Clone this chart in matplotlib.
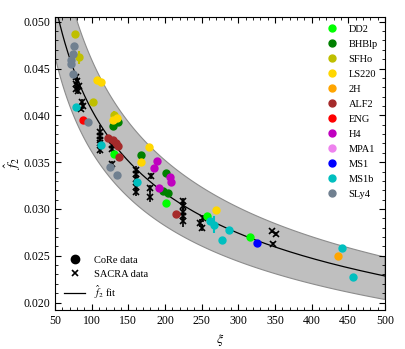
import matplotlib
matplotlib.use('Agg')
import matplotlib.pyplot as plt
from matplotlib.lines import Line2D
from matplotlib.ticker import MultipleLocator
import numpy as np

plt.rcParams['font.family'] = 'Liberation Serif'
plt.rcParams['mathtext.fontset'] = 'stix'

eos_names = ['DD2', 'BHBlp', 'SFHo', 'LS220', '2H', 'ALF2', 'ENG', 'H4', 'MPA1', 'MS1', 'MS1b', 'SLy4']
eos_colors = ['lime', 'green', '#bfbf00', 'gold', 'orange', 'brown', 'red', '#c000c0',
              'violet', 'blue', '#00bfbf', 'slategray']

# CoRe data points (one entry per simulation)
core_eos = ['SFHo', 'SFHo', 'SFHo', 'SFHo',
            'SLy4', 'SLy4', 'SLy4', 'SLy4', 'SLy4', 'SLy4', 'SLy4', 'SLy4',
            'LS220', 'LS220', 'LS220', 'LS220', 'LS220', 'LS220', 'LS220',
            'MS1b', 'MS1b', 'MS1b', 'MS1b', 'MS1b', 'MS1b', 'MS1b', 'MS1b', 'MS1b',
            'ENG',
            'BHBlp', 'BHBlp', 'BHBlp', 'BHBlp', 'BHBlp', 'BHBlp',
            'ALF2', 'ALF2', 'ALF2', 'ALF2', 'ALF2', 'ALF2',
            'DD2', 'DD2', 'DD2', 'DD2',
            'H4', 'H4', 'H4', 'H4', 'H4',
            'MS1', '2H']
core_xi = [77.3, 82.7, 101.4, 130.9,
           75.5, 74.1, 72.3, 71.8, 74.1, 94.5, 125.0, 135.0,
           106.9, 112.3, 129.5, 134.0, 178.5, 167.8, 269.5,
           78.6, 112.7, 161.4, 261.4, 266.9, 278.3, 287.7, 441.0, 456.8,
           88.6,
           129.5, 136.3, 167.0, 201.0, 197.7, 204.5,
           122.7, 129.5, 136.3, 133.0, 137.7, 215.0,
           130.9, 201.0, 257.0, 315.9,
           188.7, 185.4, 206.8, 208.2, 192.3,
           325.9, 436.4]
core_f2 = [0.0487, 0.0462, 0.0414, 0.0400,
           0.0474, 0.0466, 0.0459, 0.0455, 0.0444, 0.0393, 0.0345, 0.0336,
           0.0438, 0.0436, 0.0395, 0.0397, 0.0366, 0.0350, 0.0299,
           0.0409, 0.0368, 0.0329, 0.0287, 0.0283, 0.0267, 0.0277, 0.0258, 0.0227,
           0.0395,
           0.0389, 0.0393, 0.0358, 0.0338, 0.0319, 0.0317,
           0.0376, 0.0374, 0.0367, 0.0370, 0.0355, 0.0295,
           0.0359, 0.0306, 0.0292, 0.0270,
           0.0351, 0.0344, 0.0334, 0.0329, 0.0322,
           0.0264, 0.0250]
core_err = [0.0, 0.0007, 0.0, 0.0005,
            0.0, 0.0, 0.0, 0.0, 0.0, 0.0, 0.0, 0.0,
            0.0, 0.0, 0.0, 0.0, 0.0, 0.0, 0.0,
            0.0, 0.0, 0.0003, 0.0, 0.0009, 0.0, 0.0004, 0.0, 0.0003,
            0.0,
            0.0, 0.0, 0.0003, 0.0, 0.0, 0.0,
            0.0, 0.0, 0.0, 0.0, 0.0, 0.0,
            0.0, 0.0, 0.0, 0.0,
            0.0, 0.0, 0.0, 0.0, 0.0,
            0.0002, 0.0]

# SACRA data points
sacra_xi = [78, 80, 79, 83, 78, 81, 87, 88, 86,
            111.4, 111.4, 112, 111.4, 111, 127.3, 128, 127.3,
            160.5, 160.5, 160, 160.5, 160, 180.5, 179.5, 179.5,
            225, 225, 224, 225, 225, 252, 250, 248,
            345.5, 351.4, 347.7]
sacra_f2 = [0.0441, 0.0437, 0.0433, 0.0431, 0.0428, 0.0426, 0.0414, 0.0410, 0.0407,
            0.0382, 0.0378, 0.0374, 0.0371, 0.0363, 0.0368, 0.0364, 0.0348,
            0.0342, 0.0337, 0.0332, 0.0323, 0.0318, 0.0335, 0.0322, 0.0313,
            0.0308, 0.0303, 0.0297, 0.0292, 0.0287, 0.0290, 0.0280, 0.0285,
            0.0276, 0.0273, 0.0263]
sacra_err = [0.0004, 0.0004, 0.0003, 0.0003, 0.0003, 0.0003, 0.0003, 0.0003, 0.0002,
             0.0008, 0.0005, 0.0004, 0.0004, 0.0004, 0.0004, 0.0003, 0.0003,
             0.0004, 0.0004, 0.0004, 0.0004, 0.0004, 0.0003, 0.0004, 0.0006,
             0.0004, 0.0004, 0.0004, 0.0004, 0.0006, 0.0004, 0.0004, 0.0004,
             0.0002, 0.0002, 0.0002]

# fit f2 = A * xi^-b
fit_A = 0.2105
fit_b = 0.3574
# uncertainty band: upper relative width shrinks with xi, lower is flat
band_hi_c = 0.14
band_hi_p = 0.25
band_xi0 = 79.0
band_lo = 0.89


def f2_fit(xi):
    return fit_A * xi ** (-fit_b)


def main():
    fig = plt.figure(figsize=(4.06, 3.49), dpi=100)
    ax = fig.add_axes([0.1355, 0.1117, 0.8125, 0.8393])

    xx = np.linspace(50, 500, 400)
    upper = f2_fit(xx) * (1 + band_hi_c * (xx / band_xi0) ** (-band_hi_p))
    lower = f2_fit(xx) * band_lo
    ax.fill_between(xx, lower, upper, color='#bfbfbf', edgecolor='#8c8c8c',
                    lw=0.8, zorder=1)
    ax.plot(xx, f2_fit(xx), color='black', lw=0.9, zorder=2)

    ax.errorbar(sacra_xi, sacra_f2, yerr=sacra_err, fmt='x', color='black',
                ms=5, mew=1.2, elinewidth=1.2, capsize=0, zorder=3)

    core_eos_arr = np.array(core_eos)
    for name, col in zip(eos_names, eos_colors):
        idx = np.where(core_eos_arr == name)[0]
        if len(idx) == 0:
            continue
        ax.errorbar(np.array(core_xi)[idx], np.array(core_f2)[idx],
                    yerr=np.array(core_err)[idx], fmt='o', color=col,
                    ms=5, elinewidth=1.5, capsize=0, zorder=4)

    ax.set_xlim(50, 500)
    ax.set_ylim(0.0192, 0.0505)
    ax.xaxis.set_major_locator(MultipleLocator(50))
    ax.xaxis.set_minor_locator(MultipleLocator(10))
    ax.yaxis.set_major_locator(MultipleLocator(0.005))
    ax.yaxis.set_minor_locator(MultipleLocator(0.001))
    ax.yaxis.set_major_formatter(plt.FormatStrFormatter('%.3f'))
    ax.tick_params(which='both', direction='in', top=True, right=True, labelsize=8.5)
    ax.tick_params(which='major', length=4)
    ax.tick_params(which='minor', length=2)
    ax.set_xlabel(r'$\xi$', fontsize=10)
    ax.set_ylabel(r'$\hat{f}_2$', fontsize=10)
    ax.yaxis.set_label_coords(-0.097, 0.5)

    eos_handles = [Line2D([], [], marker='o', ls='', color=c, ms=5) for c in eos_colors]
    leg1 = ax.legend(eos_handles, eos_names, loc='upper right', frameon=False,
                     fontsize=7.5, handletextpad=0.6, labelspacing=0.55,
                     borderaxespad=0.3)
    ax.add_artist(leg1)

    src_handles = [Line2D([], [], marker='o', ls='', color='black', ms=6),
                   Line2D([], [], marker='x', ls='', color='black', ms=5, mew=1.2),
                   Line2D([], [], color='black', lw=0.9)]
    ax.legend(src_handles, ['CoRe data', 'SACRA data', r'$\hat{f}_2$ fit'],
              loc='lower left', frameon=False, fontsize=7.5, handletextpad=0.8,
              labelspacing=0.45)

    fig.savefig('out.png', dpi=100)


if __name__ == '__main__':
    main()
